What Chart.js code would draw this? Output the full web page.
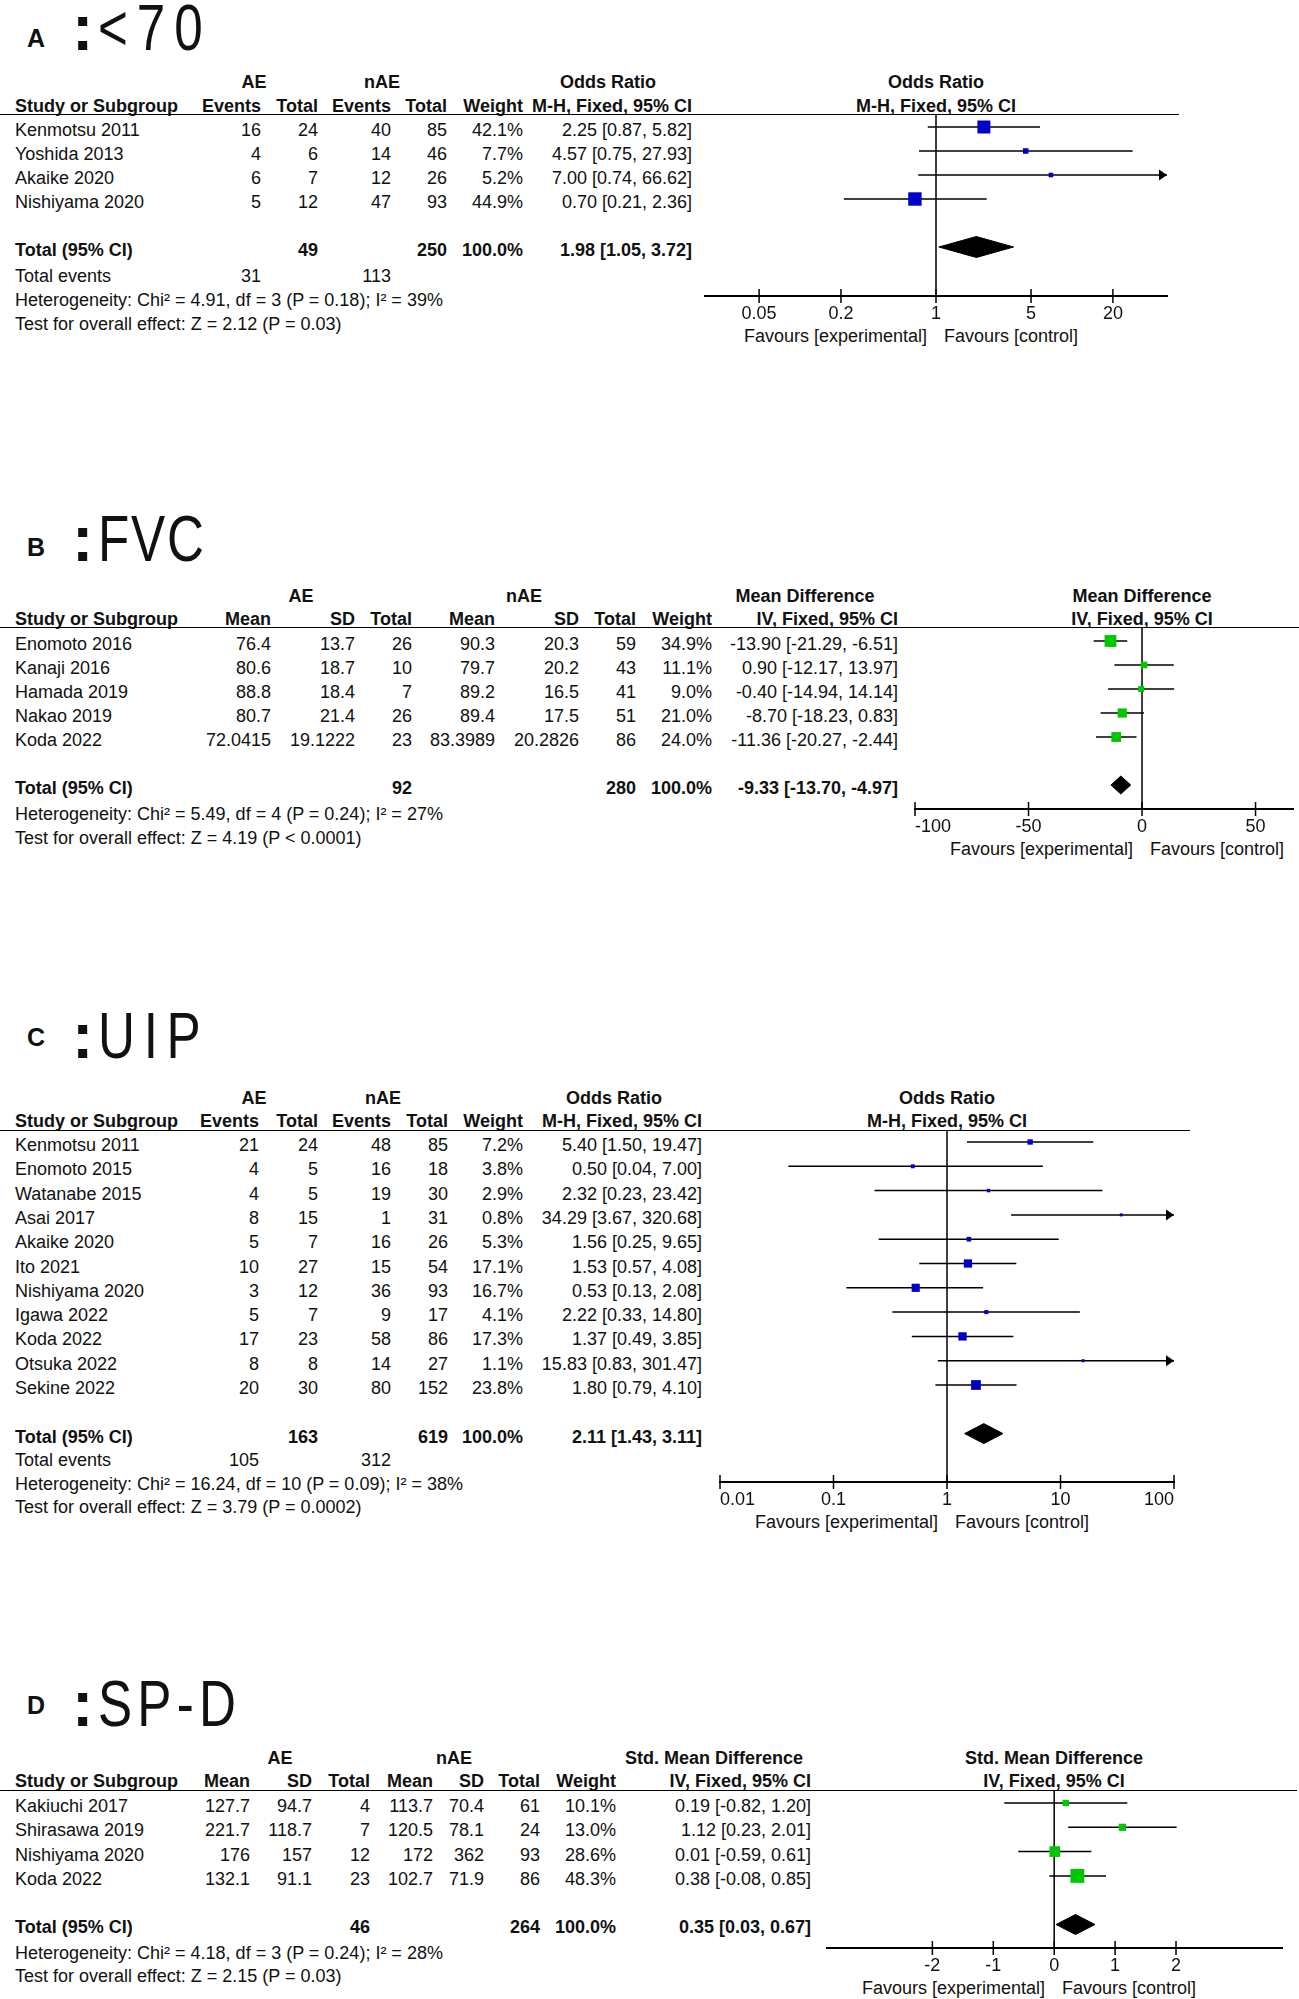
<!DOCTYPE html>
<html>
<head>
<meta charset="utf-8">
<title>Forest plots AE vs nAE</title>
<script src="https://cdn.jsdelivr.net/npm/chart.js"></script>
<style>
    body { margin: 0; background: #fff; }
    #page {
        position: relative;
        width: 1299px;
        height: 1999px;
        overflow: hidden;
        background: #fff;
        font-family: "Liberation Sans", Arial, sans-serif;
        color: #111;
    }
    .t { position: absolute; white-space: nowrap; font-size: 18px; line-height: 1; }
    .b { font-weight: bold; }
    .rule { position: absolute; left: 0; height: 0; border-top: 1.5px solid #000; }
    canvas { position: absolute; }
</style>
</head>
<body>
<div id="page"></div>
<script>
// ---------- A : <70 (odds ratio) ----------
const aStudy = ["Kenmotsu 2011", "Yoshida 2013", "Akaike 2020", "Nishiyama 2020"];
const aEvAE = [16, 4, 6, 5];
const aTotAE = [24, 6, 7, 12];
const aEvN = [40, 14, 12, 47];
const aTotN = [85, 46, 26, 93];
const aWeight = [42.1, 7.7, 5.2, 44.9];
const aOR = [2.25, 4.57, 7.00, 0.70];
const aLow = [0.87, 0.75, 0.74, 0.21];
const aHigh = [5.82, 27.93, 66.62, 2.36];
const aSum = [49, 250];
const aEvents = [31, 113];
const aPooled = [1.98, 1.05, 3.72];
const aHet = "Heterogeneity: Chi² = 4.91, df = 3 (P = 0.18); I² = 39%";
const aTest = "Test for overall effect: Z = 2.12 (P = 0.03)";
const aTicks = [0.05, 0.2, 1, 5, 20];
const aTickLabels = ["0.05", "0.2", "1", "5", "20"];

// ---------- B : FVC (mean difference) ----------
const bStudy = ["Enomoto 2016", "Kanaji 2016", "Hamada 2019", "Nakao 2019", "Koda 2022"];
const bMeanAE = [76.4, 80.6, 88.8, 80.7, 72.0415];
const bSdAE = [13.7, 18.7, 18.4, 21.4, 19.1222];
const bTotAE = [26, 10, 7, 26, 23];
const bMeanN = [90.3, 79.7, 89.2, 89.4, 83.3989];
const bSdN = [20.3, 20.2, 16.5, 17.5, 20.2826];
const bTotN = [59, 43, 41, 51, 86];
const bWeight = [34.9, 11.1, 9.0, 21.0, 24.0];
const bMD = [-13.90, 0.90, -0.40, -8.70, -11.36];
const bLow = [-21.29, -12.17, -14.94, -18.23, -20.27];
const bHigh = [-6.51, 13.97, 14.14, 0.83, -2.44];
const bSum = [92, 280];
const bPooled = [-9.33, -13.70, -4.97];
const bHet = "Heterogeneity: Chi² = 5.49, df = 4 (P = 0.24); I² = 27%";
const bTest = "Test for overall effect: Z = 4.19 (P < 0.0001)";
const bTicks = [-100, -50, 0, 50];
const bTickLabels = ["-100", "-50", "0", "50"];

// ---------- C : UIP (odds ratio) ----------
const cStudy = ["Kenmotsu 2011", "Enomoto 2015", "Watanabe 2015", "Asai 2017", "Akaike 2020", "Ito 2021",
                "Nishiyama 2020", "Igawa 2022", "Koda 2022", "Otsuka 2022", "Sekine 2022"];
const cEvAE = [21, 4, 4, 8, 5, 10, 3, 5, 17, 8, 20];
const cTotAE = [24, 5, 5, 15, 7, 27, 12, 7, 23, 8, 30];
const cEvN = [48, 16, 19, 1, 16, 15, 36, 9, 58, 14, 80];
const cTotN = [85, 18, 30, 31, 26, 54, 93, 17, 86, 27, 152];
const cWeight = [7.2, 3.8, 2.9, 0.8, 5.3, 17.1, 16.7, 4.1, 17.3, 1.1, 23.8];
const cOR = [5.40, 0.50, 2.32, 34.29, 1.56, 1.53, 0.53, 2.22, 1.37, 15.83, 1.80];
const cLow = [1.50, 0.04, 0.23, 3.67, 0.25, 0.57, 0.13, 0.33, 0.49, 0.83, 0.79];
const cHigh = [19.47, 7.00, 23.42, 320.68, 9.65, 4.08, 2.08, 14.80, 3.85, 301.47, 4.10];
const cSum = [163, 619];
const cEvents = [105, 312];
const cPooled = [2.11, 1.43, 3.11];
const cHet = "Heterogeneity: Chi² = 16.24, df = 10 (P = 0.09); I² = 38%";
const cTest = "Test for overall effect: Z = 3.79 (P = 0.0002)";
const cTicks = [0.01, 0.1, 1, 10, 100];
const cTickLabels = ["0.01", "0.1", "1", "10", "100"];

// ---------- D : SP-D (std. mean difference) ----------
const dStudy = ["Kakiuchi 2017", "Shirasawa 2019", "Nishiyama 2020", "Koda 2022"];
const dMeanAE = [127.7, 221.7, 176, 132.1];
const dSdAE = [94.7, 118.7, 157, 91.1];
const dTotAE = [4, 7, 12, 23];
const dMeanN = [113.7, 120.5, 172, 102.7];
const dSdN = [70.4, 78.1, 362, 71.9];
const dTotN = [61, 24, 93, 86];
const dWeight = [10.1, 13.0, 28.6, 48.3];
const dSMD = [0.19, 1.12, 0.01, 0.38];
const dLow = [-0.82, 0.23, -0.59, -0.08];
const dHigh = [1.20, 2.01, 0.61, 0.85];
const dSum = [46, 264];
const dPooled = [0.35, 0.03, 0.67];
const dHet = "Heterogeneity: Chi² = 4.18, df = 3 (P = 0.24); I² = 28%";
const dTest = "Test for overall effect: Z = 2.15 (P = 0.03)";
const dTicks = [-2, -1, 0, 1, 2];
const dTickLabels = ["-2", "-1", "0", "1", "2"];

const FONT = '"Liberation Sans", Arial, sans-serif';
const BLUE = "#0000c8";
const GREEN = "#00c800";
const page = document.getElementById("page");

const pct = w => w.toFixed(1) + "%";
const ci = (e, l, h) => `${e.toFixed(2)} [${l.toFixed(2)}, ${h.toFixed(2)}]`;

// arrow head whose tip sits at the centre of the image (so it lands on the axis end)
const arrowHead = document.createElement("canvas");
arrowHead.width = 18; arrowHead.height = 12;
(function () {
    const g = arrowHead.getContext("2d");
    g.fillStyle = "#000";
    g.beginPath();
    g.moveTo(1, 0.5); g.lineTo(9, 6); g.lineTo(1, 11.5); g.closePath();
    g.fill();
})();

// text centred vertically on y
function put(str, x, y, align, bold, size) {
    const d = document.createElement("div");
    d.className = "t" + (bold ? " b" : "");
    d.textContent = str;
    if (size) d.style.fontSize = size + "px";
    d.style.left = x + "px";
    d.style.top = y + "px";
    const tx = align === "r" ? "-100%" : align === "c" ? "-50%" : "0";
    d.style.transform = `translate(${tx}, -50%)`;
    page.appendChild(d);
    return d;
}

// text sitting on a baseline
function onBase(str, x, base, size, bold) {
    const d = document.createElement("div");
    d.className = "t" + (bold ? " b" : "");
    d.textContent = str;
    d.style.fontSize = size + "px";
    d.style.left = x + "px";
    d.style.top = (base - 0.847 * size) + "px";
    page.appendChild(d);
    return d;
}

function heading(L) {
    onBase(L.letter, 27, L.letterBase, 25, true);
    onBase(":", 72, L.nameBase, 64, true);
    const n = onBase(L.name, 98, L.nameBase, 64, false);
    const sx = 0.8;
    const ls = (L.nameW / sx - n.offsetWidth) / Math.max(L.name.length - 1, 1);
    n.style.letterSpacing = ls + "px";
    n.style.transformOrigin = "0 0";
    n.style.transform = `scaleX(${sx})`;
}

function table(L, heads, effName, method, rows, names, totalCells, events, het, test) {
    heading(L);
    put("AE", L.aeX, L.h1, "c", true);
    put("nAE", L.naeX, L.h1, "c", true);
    put(effName, L.effX, L.h1, "c", true);
    put(effName, L.nullPx, L.h1, "c", true);
    put("Study or Subgroup", 15, L.h2, "l", true);
    heads.forEach((h, j) => put(h, L.cols[j], L.h2, "r", true));
    put(method, L.nullPx, L.h2, "c", true);

    const r = document.createElement("div");
    r.className = "rule";
    r.style.top = L.line + "px";
    r.style.width = L.lineEnd + "px";
    page.appendChild(r);

    names.forEach((nm, i) => {
        const y = L.row0 + i * L.rowH + 3;
        put(nm, 15, y, "l");
        rows[i].forEach((c, j) => put(String(c), L.cols[j], y, "r"));
    });
    put("Total (95% CI)", 15, L.totY, "l", true);
    totalCells.forEach((c, j) => { if (c !== "") put(String(c), L.cols[j], L.totY, "r", true); });
    if (events) {
        put("Total events", 15, L.evY, "l");
        put(String(events[0]), L.cols[0], L.evY, "r");
        put(String(events[1]), L.cols[2], L.evY, "r");
    }
    put(het, 15, L.hetY, "l");
    put(test, 15, L.testY, "l");
    put("Favours [experimental]", L.nullPx - 9, L.axisY + 40, "r");
    put("Favours [control]", L.nullPx + 8, L.axisY + 40, "l");
}

function forest(L, P) {
    const cv = document.createElement("canvas");
    const w = L.xPx[1] - L.xPx[0] + 60;
    const h = L.axisY - L.line + 50;
    cv.width = w; cv.height = h;
    cv.style.left = (L.xPx[0] - 30) + "px";
    cv.style.top = L.line + "px";
    cv.style.width = w + "px";
    cv.style.height = h + "px";
    page.appendChild(cv);

    const yMin = (L.line - L.row0) / L.rowH;
    const yMax = (L.axisY - L.row0) / L.rowH;
    const [xMin, xMax] = P.range;
    const tot = P.est.length + 1;
    const dh = P.diamondPx / L.rowH;

    // label slots: empty labels at the axis ends so "inner" alignment only touches end ticks
    const tv = P.ticks.slice(), tl = P.labels.slice();
    if (tv[0] > xMin) { tv.unshift(xMin); tl.unshift(""); }
    if (tv[tv.length - 1] < xMax) { tv.push(xMax); tl.push(""); }

    const datasets = [];
    // pooled-effect diamond
    datasets.push({
        type: "line",
        data: [
            { x: P.pooled[1], y: tot }, { x: P.pooled[0], y: tot - dh },
            { x: P.pooled[2], y: tot }, { x: P.pooled[0], y: tot + dh },
            { x: P.pooled[1], y: tot }
        ],
        fill: "shape", backgroundColor: "#000", borderColor: "#000", borderWidth: 1,
        pointRadius: 0, tension: 0, clip: false, order: 1
    });
    // study estimates
    datasets.push({
        type: "scatter",
        data: P.est.map((e, i) => ({ x: e, y: i })),
        pointStyle: "rect",
        pointRadius: P.weight.map(v => Math.max(2 * Math.sqrt(v), 3) / Math.SQRT2),
        pointBackgroundColor: P.color, pointBorderWidth: 0, clip: false, order: 1
    });
    // arrows for intervals running off the axis
    datasets.push({
        type: "scatter",
        data: P.hi.map((v, i) => v > xMax ? { x: xMax, y: i } : null).filter(Boolean),
        pointStyle: arrowHead, clip: false, order: 2
    });
    // confidence intervals
    P.est.forEach((e, i) => datasets.push({
        type: "line",
        data: [{ x: Math.max(P.lo[i], xMin), y: i }, { x: Math.min(P.hi[i], xMax), y: i }],
        borderColor: "#000", borderWidth: 1.5, pointRadius: 0, clip: false, order: 3
    }));
    // line of no effect
    datasets.push({
        type: "line",
        data: [{ x: P.nullV, y: yMin }, { x: P.nullV, y: yMax }],
        borderColor: "#000", borderWidth: 1.5, pointRadius: 0, clip: false, order: 4
    });
    // tick marks crossing the axis
    datasets.push({
        type: "scatter",
        data: P.ticks.map(t => ({ x: t, y: yMax })),
        pointStyle: "line", pointRotation: 90, pointRadius: 7,
        pointBorderColor: "#000", pointBorderWidth: 1.5, clip: false, order: 5
    });

    new Chart(cv, {
        type: "scatter",
        data: { datasets },
        options: {
            responsive: false,
            animation: false,
            events: [],
            layout: { autoPadding: false, padding: { left: 30, right: 30, top: 0, bottom: 0 } },
            plugins: { legend: { display: false }, tooltip: { enabled: false } },
            scales: {
                x: {
                    type: P.log ? "logarithmic" : "linear",
                    min: xMin, max: xMax,
                    afterBuildTicks: s => { s.ticks = tv.map(v => ({ value: v })); },
                    afterFit: s => { s.height = 50; },
                    grid: { display: false },
                    border: { display: true, color: "#000", width: 2 },
                    ticks: {
                        callback: (v, i) => tl[i],
                        align: "inner",
                        color: "#111", padding: -1, maxRotation: 0, autoSkip: false,
                        font: { family: FONT, size: 18 }
                    }
                },
                y: { type: "linear", reverse: true, min: yMin, max: yMax, display: false }
            }
        }
    });
}

const OR_HEADS = ["Events", "Total", "Events", "Total", "Weight", "M-H, Fixed, 95% CI"];
const MD_HEADS = ["Mean", "SD", "Total", "Mean", "SD", "Total", "Weight", "IV, Fixed, 95% CI"];

// ----- panel A -----
const LA = { letter: "A", name: "<70", letterBase: 47, nameBase: 50, nameW: 105,
    h1: 82, h2: 106, line: 114, lineEnd: 1179, row0: 127, rowH: 24,
    totY: 250, evY: 276, hetY: 300, testY: 324,
    cols: [261, 318, 391, 447, 523, 692], aeX: 254, naeX: 382, effX: 608,
    xPx: [705, 1167], axisY: 296, nullPx: 936 };
table(LA, OR_HEADS, "Odds Ratio", "M-H, Fixed, 95% CI",
    aStudy.map((s, i) => [aEvAE[i], aTotAE[i], aEvN[i], aTotN[i], pct(aWeight[i]), ci(aOR[i], aLow[i], aHigh[i])]),
    aStudy, ["", aSum[0], "", aSum[1], "100.0%", ci(aPooled[0], aPooled[1], aPooled[2])],
    aEvents, aHet, aTest);
forest(LA, { est: aOR, lo: aLow, hi: aHigh, weight: aWeight, pooled: aPooled, log: true,
    range: [0.02, 50], nullV: 1, ticks: aTicks, labels: aTickLabels, color: BLUE, diamondPx: 10.5 });

// ----- panel B -----
const LB = { letter: "B", name: "FVC", letterBase: 556, nameBase: 561, nameW: 106,
    h1: 596, h2: 619, line: 627, lineEnd: 1299, row0: 641, rowH: 24,
    totY: 788, hetY: 814, testY: 838,
    cols: [271, 355, 412, 495, 579, 636, 712, 898], aeX: 301, naeX: 524, effX: 805,
    xPx: [915, 1293], axisY: 809, nullPx: 1142 };
table(LB, MD_HEADS, "Mean Difference", "IV, Fixed, 95% CI",
    bStudy.map((s, i) => [bMeanAE[i], bSdAE[i], bTotAE[i], bMeanN[i], bSdN[i], bTotN[i], pct(bWeight[i]), ci(bMD[i], bLow[i], bHigh[i])]),
    bStudy, ["", "", bSum[0], "", "", bSum[1], "100.0%", ci(bPooled[0], bPooled[1], bPooled[2])],
    null, bHet, bTest);
forest(LB, { est: bMD, lo: bLow, hi: bHigh, weight: bWeight, pooled: bPooled, log: false,
    range: [-100, 66.5], nullV: 0, ticks: bTicks, labels: bTickLabels, color: GREEN, diamondPx: 9 });

// ----- panel C -----
const LC = { letter: "C", name: "UIP", letterBase: 1046, nameBase: 1058, nameW: 103,
    h1: 1098, h2: 1121, line: 1130, lineEnd: 1190, row0: 1142, rowH: 24.3,
    totY: 1437, evY: 1460, hetY: 1484, testY: 1507,
    cols: [259, 318, 391, 448, 523, 702], aeX: 254, naeX: 383, effX: 614,
    xPx: [720, 1174], axisY: 1482, nullPx: 947 };
table(LC, OR_HEADS, "Odds Ratio", "M-H, Fixed, 95% CI",
    cStudy.map((s, i) => [cEvAE[i], cTotAE[i], cEvN[i], cTotN[i], pct(cWeight[i]), ci(cOR[i], cLow[i], cHigh[i])]),
    cStudy, ["", cSum[0], "", cSum[1], "100.0%", ci(cPooled[0], cPooled[1], cPooled[2])],
    cEvents, cHet, cTest);
forest(LC, { est: cOR, lo: cLow, hi: cHigh, weight: cWeight, pooled: cPooled, log: true,
    range: [0.01, 100], nullV: 1, ticks: cTicks, labels: cTickLabels, color: BLUE, diamondPx: 10 });

// ----- panel D -----
const LD = { letter: "D", name: "SP-D", letterBase: 1714, nameBase: 1726, nameW: 138,
    h1: 1758, h2: 1781, line: 1790, lineEnd: 1297, row0: 1803, rowH: 24.3,
    totY: 1927, hetY: 1953, testY: 1976,
    cols: [250, 312, 370, 433, 484, 540, 616, 811], aeX: 280, naeX: 454, effX: 714,
    xPx: [827, 1282], axisY: 1948, nullPx: 1054 };
table(LD, MD_HEADS, "Std. Mean Difference", "IV, Fixed, 95% CI",
    dStudy.map((s, i) => [dMeanAE[i], dSdAE[i], dTotAE[i], dMeanN[i], dSdN[i], dTotN[i], pct(dWeight[i]), ci(dSMD[i], dLow[i], dHigh[i])]),
    dStudy, ["", "", dSum[0], "", "", dSum[1], "100.0%", ci(dPooled[0], dPooled[1], dPooled[2])],
    null, dHet, dTest);
forest(LD, { est: dSMD, lo: dLow, hi: dHigh, weight: dWeight, pooled: dPooled, log: false,
    range: [-3.73, 3.74], nullV: 0, ticks: dTicks, labels: dTickLabels, color: GREEN, diamondPx: 10 });
</script>
</body>
</html>
